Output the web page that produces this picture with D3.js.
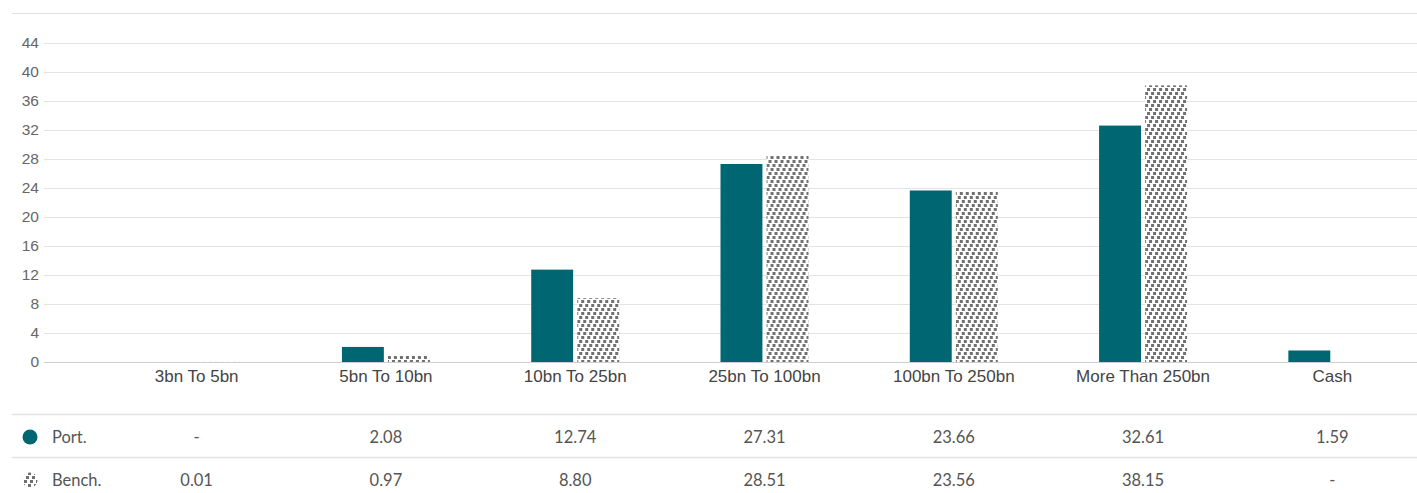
<!DOCTYPE html>
<html><head><meta charset="utf-8">
<script src="https://cdn.jsdelivr.net/npm/d3@7"></script>
<style>body{margin:0;background:#fff;} svg{display:block;font-family:Lato, "Open Sans", sans-serif;}</style>
</head><body>
<svg id="chart" width="1417" height="493"></svg>
<script>
const categories = ["3bn To 5bn","5bn To 10bn","10bn To 25bn","25bn To 100bn","100bn To 250bn","More Than 250bn","Cash"];
const portValues = [null, 2.08, 12.74, 27.31, 23.66, 32.61, 1.59];
const benchValues = [0.01, 0.97, 8.80, 28.51, 23.56, 38.15, null];
const seriesNames = ["Port.", "Bench."];
const yTicks = [0,4,8,12,16,20,24,28,32,36,40,44];

const svg = d3.select("#chart");
const W = 1417;
const teal = "#006672";
const patGray = "#707070";

const defs = svg.append("defs");
const pat = defs.append("pattern").attr("id","checker").attr("patternUnits","userSpaceOnUse")
  .attr("width",6).attr("height",12);
pat.append("rect").attr("width",6).attr("height",12).attr("fill","#fff");
[[0,0],[4,4],[2,8]].forEach(([px,py])=>{
  pat.append("rect").attr("x",px).attr("y",py).attr("width",3).attr("height",3).attr("fill",patGray);
  if (px+3>6) pat.append("rect").attr("x",px-6).attr("y",py).attr("width",3).attr("height",3).attr("fill",patGray);
});

const y = d3.scaleLinear().domain([0,44]).range([362,43]);
const x = d3.scaleBand().domain(categories).range([102,1427]);
const inner = d3.scaleBand().domain(seriesNames).range([-44,44]).paddingInner(0.09);

// top line
svg.append("line").attr("x1",12).attr("x2",W).attr("y1",13.5).attr("y2",13.5).attr("stroke","#e0e0e0");

// grid + y axis
const yAxis = d3.axisLeft(y).tickValues(yTicks).tickSize(-(W-44)).tickPadding(4);
const gy = svg.append("g").attr("transform","translate(44,0)").call(yAxis);
gy.select(".domain").remove();
gy.selectAll(".tick line").attr("stroke", d => d===0 ? "#cfcfcf" : "#e3e3e3");
gy.selectAll(".tick text").attr("fill","#666").style("font-size","15.5px").attr("x",-5);

// bars
const groups = svg.append("g").selectAll("g").data(categories).join("g")
  .attr("transform", c => `translate(${x(c)+x.bandwidth()/2},0)`);
groups.each(function(c,i){
  const g = d3.select(this);
  const vals = [portValues[i], benchValues[i]];
  vals.forEach((v,j)=>{
    if (v==null) return;
    g.append("rect").attr("x", inner(seriesNames[j])).attr("width", inner.bandwidth())
      .attr("y", y(v)).attr("height", y(0)-y(v))
      .attr("fill", j===0 ? teal : "url(#checker)");
  });
});

// x axis labels
const xAxis = d3.axisBottom(x).tickSize(0).tickPadding(8);
const gx = svg.append("g").attr("transform","translate(0,362)").call(xAxis);
gx.select(".domain").remove();
gx.selectAll(".tick text").attr("fill","#444").style("font-size","17px");

// table
svg.append("line").attr("x1",12).attr("x2",W).attr("y1",414.5).attr("y2",414.5).attr("stroke","#e3e3e3").attr("stroke-width",1.5);
svg.append("line").attr("x1",12).attr("x2",W).attr("y1",457.5).attr("y2",457.5).attr("stroke","#e3e3e3").attr("stroke-width",1.5);
const rowY = [437, 480];
const rowVals = [portValues, benchValues];
rowY.forEach((ry,r)=>{
  svg.append("circle").attr("cx",30).attr("cy",ry).attr("r",7.5)
    .attr("fill", r===0 ? teal : "url(#checker)");
  svg.append("text").attr("x",52).attr("y",ry).attr("dy","0.35em").attr("fill","#555")
    .style("font-size","16.5px").text(seriesNames[r]);
  svg.append("g").selectAll("text").data(categories).join("text")
    .attr("x", c => x(c)+x.bandwidth()/2).attr("y", ry).attr("dy","0.35em")
    .attr("text-anchor","middle").attr("fill","#555").style("font-size","16.5px")
    .text((c,i)=> rowVals[r][i]==null ? "-" : rowVals[r][i].toFixed(2));
});
</script>
</body></html>
